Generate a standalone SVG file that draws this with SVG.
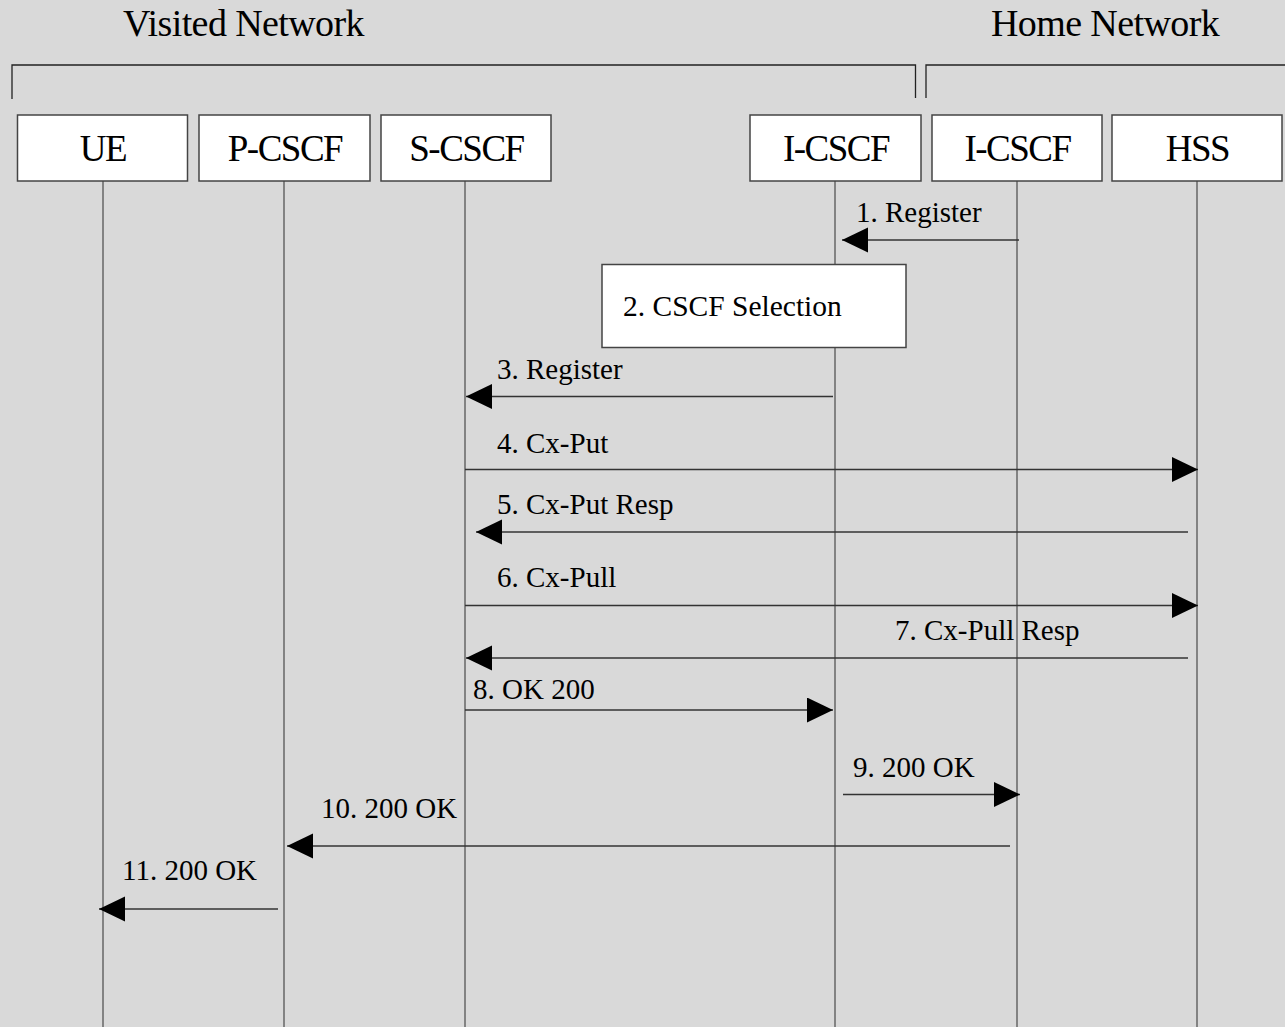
<svg xmlns="http://www.w3.org/2000/svg" width="1285" height="1027" viewBox="0 0 1285 1027">
<defs>
<style>
.bg{fill:#d9d9d9}
.t{font-family:"Liberation Serif","Times New Roman",serif;fill:#000}
.net{font-size:38px;letter-spacing:-0.6px}
.nl{font-size:37px;letter-spacing:-1.5px;text-anchor:middle}
.ml{font-size:29px}
.box{fill:#fff;stroke:#444;stroke-width:1.5}
.life{stroke:#666;stroke-width:1.5;fill:none}
.brk{stroke:#222;stroke-width:1.3;fill:none}
.msg{stroke:#333;stroke-width:1.5;fill:none;marker-end:url(#ah)}
</style>
<marker id="ah" markerUnits="userSpaceOnUse" markerWidth="27" markerHeight="27" refX="26" refY="12.5" orient="auto">
<path d="M0,0 L26,12.5 L0,25 Z" fill="#000"/>
</marker>
</defs>
<rect class="bg" x="0" y="0" width="1285" height="1027"/>

<g id="networks">
<text class="t net" x="123" y="36">Visited Network</text>
<text class="t net" x="991" y="36">Home Network</text>
<path class="brk" d="M12,99 V65 H915.5 V98"/>
<path class="brk" d="M926,98 V65 H1285"/>
</g>

<g id="lifelines">
<line class="life" x1="103" y1="181" x2="103" y2="1027"/>
<line class="life" x1="284" y1="181" x2="284" y2="1027"/>
<line class="life" x1="465" y1="181" x2="465" y2="1027"/>
<line class="life" x1="835" y1="181" x2="835" y2="1027"/>
<line class="life" x1="1017" y1="181" x2="1017" y2="1027"/>
<line class="life" x1="1197" y1="181" x2="1197" y2="1027"/>
</g>

<g id="node-ue"><rect class="box" x="17.5" y="115" width="170" height="66"/><text class="t nl" x="103" y="161">UE</text></g>
<g id="node-pcscf"><rect class="box" x="199" y="115" width="171" height="66"/><text class="t nl" x="285" y="161">P-CSCF</text></g>
<g id="node-scscf"><rect class="box" x="381" y="115" width="170" height="66"/><text class="t nl" x="466.5" y="161">S-CSCF</text></g>
<g id="node-icscf-v"><rect class="box" x="750" y="115" width="171" height="66"/><text class="t nl" x="836" y="161">I-CSCF</text></g>
<g id="node-icscf-h"><rect class="box" x="932" y="115" width="170" height="66"/><text class="t nl" x="1017.5" y="161">I-CSCF</text></g>
<g id="node-hss"><rect class="box" x="1112" y="115" width="170" height="66"/><text class="t nl" x="1197.5" y="161">HSS</text></g>

<g id="node-selection"><rect class="box" x="602" y="264.5" width="304" height="83"/><text class="t ml" x="623" y="316" style="font-size:29.5px">2. CSCF Selection</text></g>

<g id="connectors">
<line class="msg" x1="1019" y1="240" x2="842" y2="240"/>
<line class="msg" x1="833" y1="396.5" x2="466" y2="396.5"/>
<line class="msg" x1="465" y1="469.5" x2="1198" y2="469.5"/>
<line class="msg" x1="1188" y1="532" x2="476" y2="532"/>
<line class="msg" x1="465" y1="605.5" x2="1198" y2="605.5"/>
<line class="msg" x1="1188" y1="658" x2="466" y2="658"/>
<line class="msg" x1="465" y1="710" x2="833" y2="710"/>
<line class="msg" x1="843" y1="794.5" x2="1020" y2="794.5"/>
<line class="msg" x1="1010" y1="846" x2="287" y2="846"/>
<line class="msg" x1="278" y1="909" x2="99" y2="909"/>
</g>

<g id="labels">
<text class="t ml" x="856" y="222">1. Register</text>
<text class="t ml" x="497" y="379">3. Register</text>
<text class="t ml" x="497" y="453">4. Cx-Put</text>
<text class="t ml" x="497" y="514">5. Cx-Put Resp</text>
<text class="t ml" x="497" y="587">6. Cx-Pull</text>
<text class="t ml" x="895" y="640">7. Cx-Pull Resp</text>
<text class="t ml" x="473" y="699">8. OK 200</text>
<text class="t ml" x="853" y="777">9. 200 OK</text>
<text class="t ml" x="321" y="818">10. 200 OK</text>
<text class="t ml" x="122" y="880">11. 200 OK</text>
</g>
</svg>
